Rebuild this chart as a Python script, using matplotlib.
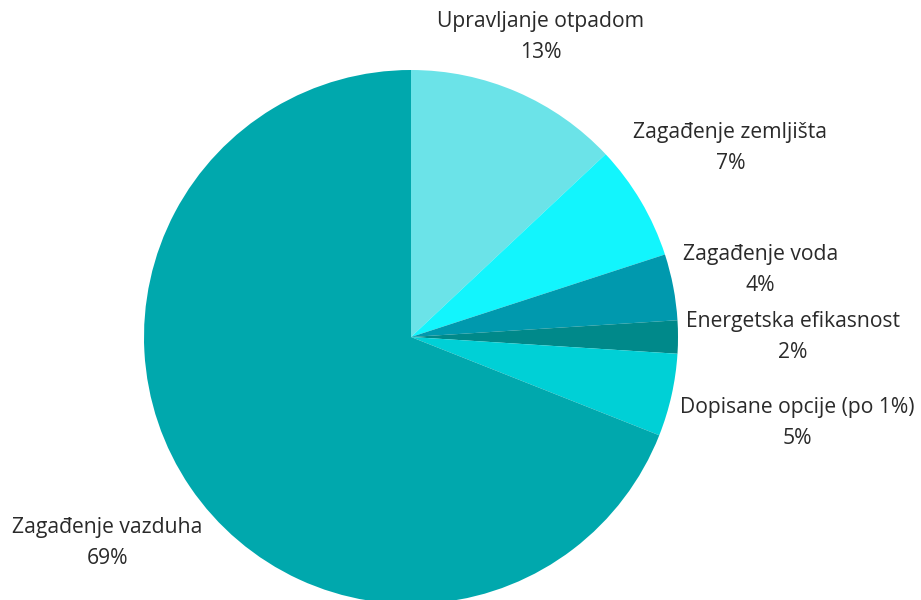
import numpy as np
import matplotlib
matplotlib.use("Agg")
import matplotlib.pyplot as plt

# survey answers, clockwise from 12 o'clock
labels = [
    "Upravljanje otpadom",
    "Zagađenje zemljišta",
    "Zagađenje voda",
    "Energetska efikasnost",
    "Dopisane opcije (po 1%)",
    "Zagađenje vazduha",
]
shares = [13, 7, 4, 2, 5, 69]
colors = ["#6be3e8", "#12f5fd", "#0099ae", "#00898a", "#00d0d6", "#00a8ad"]

plt.rcParams["font.family"] = ["Open Sans", "DejaVu Sans"]

W, H = 921, 600
fig = plt.figure(figsize=(W / 100, H / 100), dpi=100)
ax = fig.add_axes([0, 0, 1, 1])

cx, cy, R = 411, 263, 267
wedges, _ = ax.pie(shares, colors=colors, startangle=90, counterclock=False,
                   center=(cx, cy), radius=R, frame=True,
                   wedgeprops=dict(linewidth=0))
ax.set_xlim(0, W)
ax.set_ylim(0, H)
ax.set_aspect("equal")
ax.axis("off")

fig.canvas.draw()
renderer = fig.canvas.get_renderer()
gap = 8

for w, lab, val in zip(wedges, labels, shares):
    ang = np.deg2rad((w.theta1 + w.theta2) / 2)
    txt = ax.text(cx, cy, f"{lab}\n{val}%", ha="center", va="center",
                  fontsize=15.2, color="#2a2a2a", linespacing=1.62)
    # push the label out along the wedge bisector until it clears the pie
    d = R
    while True:
        txt.set_position((cx + d * np.cos(ang), cy + d * np.sin(ang)))
        bb = txt.get_window_extent(renderer).transformed(ax.transData.inverted())
        px = min(max(cx, bb.x0), bb.x1)
        py = min(max(cy, bb.y0), bb.y1)
        if np.hypot(px - cx, py - cy) >= R + gap:
            break
        d += 1

fig.savefig("out.png", dpi=100, facecolor="white")
